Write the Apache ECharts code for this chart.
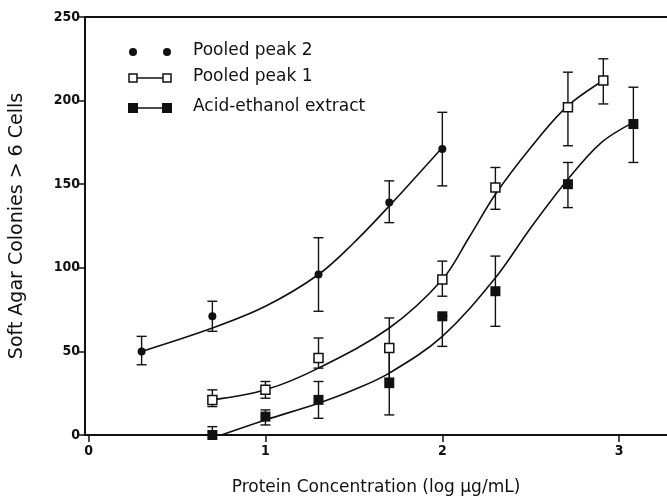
<!DOCTYPE html>
<html>
<head>
<meta charset="utf-8">
<script src="https://cdn.jsdelivr.net/npm/echarts@6/dist/echarts.min.js"></script>
<style>
  html, body { margin: 0; padding: 0; background: #fff; }
  #chart { width: 667px; height: 501px; }
</style>
</head>
<body>
<div id="chart"></div>
<script>
// log protein concentration (x) and colony counts (y)
var peak2X = [0.3, 0.7, 1.3, 1.7, 2.0];
var peak2Y = [50, 71, 96, 139, 171];
var peak2Low = [42, 62, 74, 127, 149];
var peak2High = [59, 80, 118, 152, 193];

var peak1X = [0.7, 1.0, 1.3, 1.7, 2.0, 2.3, 2.71, 2.91];
var peak1Y = [21, 27, 46, 52, 93, 148, 196, 212];
var peak1Low = [17, 22, 40, 34, 83, 135, 173, 198];
var peak1High = [27, 32, 58, 70, 104, 160, 217, 225];

var acidX = [0.7, 1.0, 1.3, 1.7, 2.0, 2.3, 2.71, 3.08];
var acidY = [0, 11, 21, 31, 71, 86, 150, 186];
var acidLow = [0, 6, 10, 12, 53, 65, 136, 163];
var acidHigh = [5, 15, 32, 51, 71, 107, 163, 208];

// fitted curves
var curve2X = [0.3, 0.7, 1.0, 1.3, 1.5, 1.7, 2.0];
var curve2Y = [50, 64, 77, 96, 115, 137, 172];
var curve1X = [0.7, 1.0, 1.3, 1.7, 2.0, 2.15, 2.3, 2.5, 2.7, 2.91];
var curve1Y = [21, 27, 40, 64, 93, 118, 144, 172, 196, 212];
var curveAX = [0.75, 1.0, 1.3, 1.5, 1.7, 2.0, 2.3, 2.5, 2.71, 2.9, 3.08];
var curveAY = [0, 9, 19, 27, 37, 59, 94, 124, 153, 175, 187];

var xTicks = [0, 1, 2, 3];

var legendNames = ["Pooled peak 2", "Pooled peak 1", "Acid-ethanol extract"];

function pairs(xs, ys) {
  return xs.map(function (x, i) { return [x, ys[i]]; });
}

function errorBars(xs, lows, highs) {
  return {
    type: "custom",
    z: 2,
    renderItem: function (params, api) {
      var x = api.value(0);
      var lo = api.coord([x, api.value(1)]);
      var hi = api.coord([x, api.value(2)]);
      var w = 5;
      var st = { stroke: "#111", lineWidth: 1.4 };
      var kids = [
        { type: "line", shape: { x1: lo[0], y1: lo[1], x2: hi[0], y2: hi[1] }, style: st }
      ];
      if (api.value(1) !== api.value(2)) {
        kids.push({ type: "line", shape: { x1: hi[0] - w, y1: hi[1], x2: hi[0] + w, y2: hi[1] }, style: st });
        if (api.value(1) > 0) {
          kids.push({ type: "line", shape: { x1: lo[0] - w, y1: lo[1], x2: lo[0] + w, y2: lo[1] }, style: st });
        }
      }
      return { type: "group", children: kids };
    },
    encode: { x: 0, y: [1, 2] },
    data: xs.map(function (x, i) { return [x, lows[i], highs[i]]; })
  };
}

function curve(xs, ys) {
  return {
    type: "line",
    smooth: 0.35,
    showSymbol: false,
    symbol: "none",
    z: 1,
    lineStyle: { color: "#111", width: 1.6 },
    data: pairs(xs, ys)
  };
}

var labelFont = {
  fontFamily: "DejaVu Sans Condensed, Liberation Sans Narrow, Liberation Sans",
  fontWeight: "bold",
  fontSize: 14,
  color: "#111"
};

var chart = echarts.init(document.getElementById("chart"));
chart.setOption({
  backgroundColor: "#fff",
  animation: false,
  grid: { left: 83, right: 0, top: 17, bottom: 64 },
  xAxis: [
    {
      type: "value",
      min: -0.02,
      max: 3.27,
      name: "Protein Concentration (log μg/mL)",
      nameLocation: "middle",
      nameGap: 44,
      nameTextStyle: { fontFamily: "DejaVu Sans", fontSize: 17, color: "#111" },
      splitLine: { show: false },
      axisLine: { onZero: false, lineStyle: { color: "#111", width: 2 } },
      axisTick: { length: 7, lineStyle: { color: "#111", width: 1.5 }, customValues: xTicks },
      axisLabel: Object.assign({ margin: 9, customValues: xTicks }, labelFont)
    },
    {
      type: "value",
      position: "top",
      min: -0.02,
      max: 3.27,
      axisLine: { show: true, onZero: false, lineStyle: { color: "#111", width: 2 } },
      axisTick: { show: false },
      axisLabel: { show: false },
      splitLine: { show: false }
    }
  ],
  yAxis: {
    type: "value",
    min: 0,
    max: 250,
    interval: 50,
    name: "Soft Agar Colonies > 6 Cells",
    nameLocation: "middle",
    nameGap: 58,
    nameRotate: 90,
    nameTextStyle: { fontFamily: "DejaVu Sans", fontSize: 19, color: "#111" },
    splitLine: { show: false },
    axisLine: { show: true, onZero: false, lineStyle: { color: "#111", width: 2 } },
    axisTick: { length: 7, lineStyle: { color: "#111", width: 1.5 } },
    axisLabel: Object.assign({ margin: 5 }, labelFont)
  },
  graphic: [
    // legend
    { type: "circle", shape: { cx: 133, cy: 52, r: 4 }, style: { fill: "#111" } },
    { type: "circle", shape: { cx: 167, cy: 52, r: 4 }, style: { fill: "#111" } },
    { type: "line", shape: { x1: 133, y1: 78, x2: 167, y2: 78 }, style: { stroke: "#111", lineWidth: 1.5 } },
    { type: "rect", shape: { x: 129, y: 74, width: 8, height: 8 }, style: { fill: "#fff", stroke: "#111", lineWidth: 1.5 } },
    { type: "rect", shape: { x: 163, y: 74, width: 8, height: 8 }, style: { fill: "#fff", stroke: "#111", lineWidth: 1.5 } },
    { type: "line", shape: { x1: 133, y1: 108, x2: 167, y2: 108 }, style: { stroke: "#111", lineWidth: 1.5 } },
    { type: "rect", shape: { x: 128, y: 103, width: 10, height: 10 }, style: { fill: "#111" } },
    { type: "rect", shape: { x: 162, y: 103, width: 10, height: 10 }, style: { fill: "#111" } },
    { type: "text", left: 193, top: 42, style: { text: legendNames[0], font: "17px DejaVu Sans", fill: "#111" } },
    { type: "text", left: 193, top: 68, style: { text: legendNames[1], font: "17px DejaVu Sans", fill: "#111" } },
    { type: "text", left: 193, top: 98, style: { text: legendNames[2], font: "17px DejaVu Sans", fill: "#111" } }
  ],
  series: [
    curve(curve2X, curve2Y),
    curve(curve1X, curve1Y),
    curve(curveAX, curveAY),
    errorBars(peak2X, peak2Low, peak2High),
    errorBars(peak1X, peak1Low, peak1High),
    errorBars(acidX, acidLow, acidHigh),
    {
      name: legendNames[0],
      type: "scatter",
      z: 3,
      symbol: "circle",
      symbolSize: 8,
      itemStyle: { color: "#111", opacity: 1 },
      data: pairs(peak2X, peak2Y)
    },
    {
      name: legendNames[1],
      type: "scatter",
      z: 3,
      symbol: "rect",
      symbolSize: 9,
      itemStyle: { color: "#fff", borderColor: "#111", borderWidth: 1.5, opacity: 1 },
      data: pairs(peak1X, peak1Y)
    },
    {
      name: legendNames[2],
      type: "scatter",
      z: 3,
      symbol: "rect",
      symbolSize: 10,
      itemStyle: { color: "#111", opacity: 1 },
      data: pairs(acidX, acidY)
    }
  ]
});
</script>
</body>
</html>
